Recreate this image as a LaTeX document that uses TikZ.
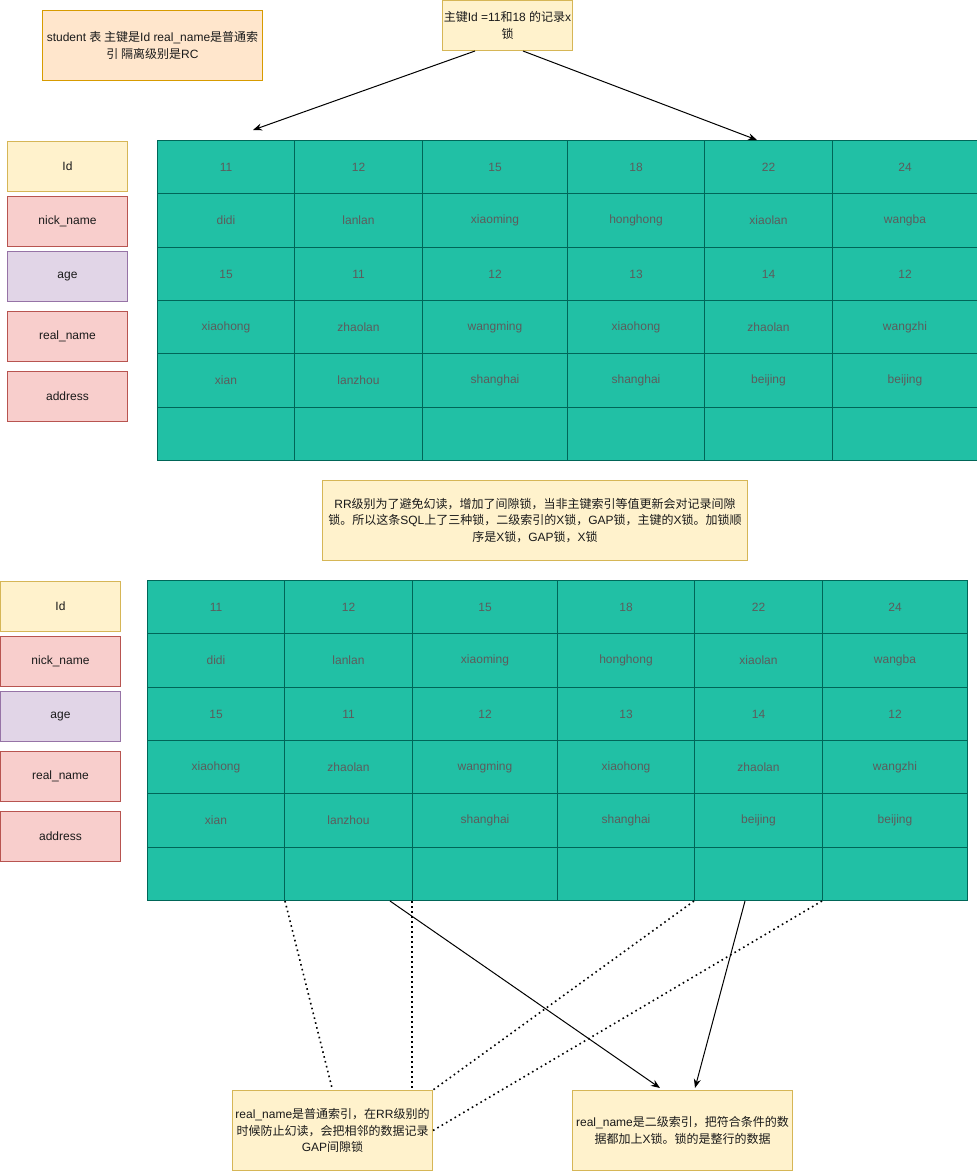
\documentclass[tikz,border=0pt]{standalone}
\usepackage{fontspec}
\setmainfont{Liberation Sans}
\newfontfamily\cjk{Noto Sans CJK SC}
\usetikzlibrary{arrows.meta,calc}
\newcommand\zh[1]{{\cjk #1}}
\definecolor{tealfill}{HTML}{21C0A5}
\definecolor{tealdraw}{HTML}{006658}
\definecolor{tealtext}{HTML}{5C5C5C}
\definecolor{yelfill}{HTML}{FFF2CC}
\definecolor{yeldraw}{HTML}{D6B656}
\definecolor{orfill}{HTML}{FFE6CC}
\definecolor{ordraw}{HTML}{D79B00}
\definecolor{redfill}{HTML}{F8CECC}
\definecolor{reddraw}{HTML}{B85450}
\definecolor{purfill}{HTML}{E1D5E7}
\definecolor{purdraw}{HTML}{9673A6}
\definecolor{txt}{HTML}{1A1A1A}
\tikzset{
  base/.style={inner sep=0pt, font=\fontsize{12}{16.5}\selectfont, line width=1pt, align=center, anchor=north west, text=txt},
  cell/.style={base, draw=tealdraw, fill=tealfill, text=tealtext},
  noteyel/.style={base, draw=yeldraw, fill=yelfill},
  noteora/.style={base, draw=ordraw, fill=orfill},
  fldyel/.style={base, draw=yeldraw, fill=yelfill, minimum width=120pt, minimum height=50pt},
  fldred/.style={base, draw=reddraw, fill=redfill, minimum width=120pt, minimum height=50pt},
  fldpur/.style={base, draw=purdraw, fill=purfill, minimum width=120pt, minimum height=50pt},
  arr/.style={-{Stealth[length=9pt,width=7pt]}, line width=1pt, draw=black},
  dots/.style={line width=1.6pt, dash pattern=on 1.6pt off 3.4pt, draw=black},
}
% #1 prefix, #2 dx, #3 dy, #4 row, #5 ya, #6 yb, #7 texts
\newcommand\tblrow[7]{%
  \foreach \t [count=\c] in {#7}{%
    \pgfmathsetmacro\xa{{157,294,422,567,704,832}[\c-1]+(#2)}%
    \pgfmathsetmacro\ww{{137,128,145,137,128,145}[\c-1]}%
    \pgfmathsetmacro\hh{#6-#5}%
    \pgfmathsetmacro\yy{#5+(#3)}%
    \node[cell, minimum width=\ww pt, minimum height=\hh pt] (#1-#4-\c) at (\xa,\yy) {\t};
  }%
}
\newcommand\fulltable[3]{%
  \tblrow{#1}{#2}{#3}{1}{140}{193}{11,12,15,18,22,24}
  \tblrow{#1}{#2}{#3}{2}{193}{247}{didi,lanlan,xiaoming,honghong,xiaolan,wangba}
  \tblrow{#1}{#2}{#3}{3}{247}{300}{15,11,12,13,14,12}
  \tblrow{#1}{#2}{#3}{4}{300}{353}{xiaohong,zhaolan,wangming,xiaohong,zhaolan,wangzhi}
  \tblrow{#1}{#2}{#3}{5}{353}{407}{xian,lanzhou,shanghai,shanghai,beijing,beijing}
  \tblrow{#1}{#2}{#3}{6}{407}{460}{{},{},{},{},{},{}}
}
\begin{document}
\begin{tikzpicture}[x=1pt,y=-1pt]
\useasboundingbox (0,0) rectangle (977,1171);

% notes
\node[noteora, minimum width=220pt, minimum height=70pt] (note1) at (42,10)
  {student \zh{表 主键是}Id real\_name\zh{是普通索}\\\zh{引 隔离级别是}RC};
\node[noteyel, minimum width=130pt, minimum height=50pt] (topnote) at (442,0)
  {\zh{主键}Id =11\zh{和}18 \zh{的记录}x\\\zh{锁}};
\node[noteyel, minimum width=425pt, minimum height=80pt] (midnote) at (322,480)
  {RR\zh{级别为了避免幻读，增加了间隙锁，当非主键索引等值更新会对记录间隙}\\\zh{锁。所以这条}SQL\zh{上了三种锁，二级索引的}X\zh{锁，}GAP\zh{锁，主键的}X\zh{锁。加锁顺}\\\zh{序是}X\zh{锁，}GAP\zh{锁，}X\zh{锁}};
\node[noteyel, minimum width=200pt, minimum height=80pt] (bl) at (232,1090)
  {real\_name\zh{是普通索引，在}RR\zh{级别的}\\\zh{时候防止幻读，会把相邻的数据记录}\\GAP\zh{间隙锁}};
\node[noteyel, minimum width=220pt, minimum height=80pt] (br) at (572,1090)
  {real\_name\zh{是二级索引，把符合条件的数}\\\zh{据都加上}X\zh{锁。锁的是整行的数据}};

% field labels top
\node[fldyel] (TL-1) at (7,141) {Id};
\node[fldred] (TL-2) at (7,196) {nick\_name};
\node[fldpur] (TL-3) at (7,251) {age};
\node[fldred] (TL-4) at (7,311) {real\_name};
\node[fldred] (TL-5) at (7,371) {address};
% field labels bottom
\node[fldyel] (BL-1) at (0,581) {Id};
\node[fldred] (BL-2) at (0,636) {nick\_name};
\node[fldpur] (BL-3) at (0,691) {age};
\node[fldred] (BL-4) at (0,751) {real\_name};
\node[fldred] (BL-5) at (0,811) {address};

% tables
\fulltable{T}{0}{0}
\fulltable{B}{-10}{440}

% top arrows
\coordinate (a1s) at ($(topnote.south west)+(33,0)$);
\coordinate (a1e) at (253,130);
\coordinate (a2s) at ($(topnote.south west)+(81,0)$);
\coordinate (a2e) at ($(T-1-5.north west)+(53,0)$);
\draw[arr] (a1s) -- (a1e);
\draw[arr] (a2s) -- (a2e);

% bottom connectors
\draw[dots] (B-6-1.south east) -- (bl.north);
\draw[dots] (B-6-3.south west) -- (B-6-3.south west |- bl.north);
\draw[dots] (B-6-5.south west) -- (bl.north east);
\draw[dots] (B-6-6.south west) -- (bl.east);
\coordinate (s1) at ($(B-6-2.south west)+(106,0)$);
\coordinate (e1) at ($(br.north west)+(88,-2)$);
\coordinate (s2) at ($(B-6-5.south west)+(51,0)$);
\coordinate (e2) at ($(br.north west)+(123,-2)$);
\draw[arr] (s1) -- (e1);
\draw[arr] (s2) -- (e2);
\end{tikzpicture}
\end{document}
